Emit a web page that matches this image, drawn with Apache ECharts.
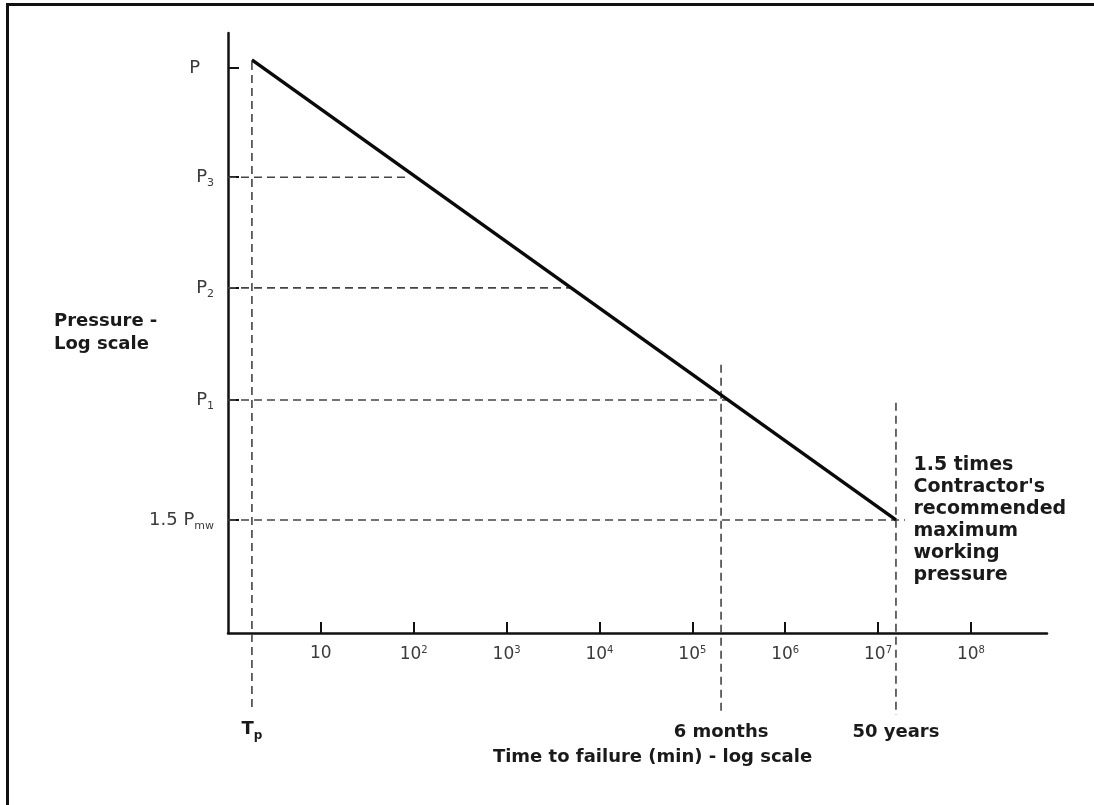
<!DOCTYPE html>
<html><head><meta charset="utf-8">
<script src="https://cdn.jsdelivr.net/npm/echarts@6/dist/echarts.min.js"></script>
<style>
html,body{margin:0;padding:0;background:#fff;overflow:hidden;width:1094px;height:805px;}
#frame{position:absolute;left:6px;top:3px;width:1200px;height:900px;border-top:3px solid #111;border-left:3px solid #111;}
#chart{position:absolute;left:0;top:0;width:1094px;height:805px;}
</style></head><body><div id="frame"></div><div id="chart"></div>
<script>
// ---- data ----
const timeTickValues = [10, 1e2, 1e3, 1e4, 1e5, 1e6, 1e7, 1e8];
const pressureLevels = [8.74, 5.75, 3.76, 2.445, 1.543];
const pressureNames = ['P', 'P', 'P', 'P', '1.5 P'];
const pressureSubs = ['', '3', '2', '1', 'mw'];
const curveTimes = [1.81, 1.56e7];
const curvePressures = [9.02, 1.543];
const levelGuideEnds = [null, 80.5, 4820, 2.88e5, 1.95e7];
const markerTimes = [1.81, 2.04e5, 1.56e7];
const markerNames = ['T', '6 months', '50 years'];
const markerSubs = ['p', '', ''];
const markerTops = [8.95, 2.80, 2.42];
const markerBottoms = [0.753, 0.73, 0.73];
const annotationLines = ['1.5 times', "Contractor's", 'recommended', 'maximum', 'working', 'pressure'];
const timeMin = 1, timeMax = 6.6e8, pressureMin = 1, pressureMax = 10;

const FONT = 'DejaVu Sans';
const guideStyle = { color: '#444', width: 1.6, type: [8, 5] };

function nearestIndex(arr, v) {
  let best = 0, bd = Infinity;
  arr.forEach((a, i) => { const d = Math.abs(Math.log(a) - Math.log(v)); if (d < bd) { bd = d; best = i; } });
  return best;
}

const series = [];
// main curve
series.push({
  type: 'line', silent: true, animation: false, z: 5,
  symbol: 'circle', symbolSize: 1, itemStyle: { color: 'rgba(0,0,0,0)' },
  lineStyle: { color: '#0a0a0a', width: 3.4 },
  data: curveTimes.map((t, i) => {
    const item = { value: [t, curvePressures[i]] };
    if (i === curveTimes.length - 1) {
      item.label = {
        show: true, position: 'right', distance: 17, align: 'left',
        formatter: annotationLines.join('\n'),
        fontFamily: FONT, fontSize: 19, fontWeight: 'bold', lineHeight: 22, color: '#1a1a1a'
      };
    }
    return item;
  })
});
// horizontal guides
pressureLevels.forEach((p, i) => {
  if (levelGuideEnds[i] == null) return;
  series.push({
    type: 'line', silent: true, animation: false, clip: false, z: 2,
    symbol: 'none', lineStyle: guideStyle,
    data: [[timeMin, p], [levelGuideEnds[i], p]]
  });
});
// vertical guides with labels below the axis
markerTimes.forEach((t, i) => {
  series.push({
    type: 'line', silent: true, animation: false, clip: false, z: 2,
    symbol: 'circle', symbolSize: 1, itemStyle: { color: 'rgba(0,0,0,0)' },
    lineStyle: guideStyle,
    data: [
      [t, markerTops[i]],
      {
        value: [t, markerBottoms[i]],
        label: {
          show: true, position: 'bottom', distance: i === 0 ? 10 : 8,
          formatter: markerSubs[i] ? '{m|' + markerNames[i] + '}{s|' + markerSubs[i] + '}' : '{m|' + markerNames[i] + '}',
          rich: {
            m: { fontFamily: FONT, fontSize: 18, fontWeight: 'bold', color: '#1a1a1a' },
            s: { fontFamily: FONT, fontSize: 12, fontWeight: 'bold', color: '#1a1a1a', padding: [12, 0, 0, 0] }
          }
        }
      }
    ]
  });
});

const option = {
  backgroundColor: 'transparent',
  animation: false,
  textStyle: { fontFamily: FONT },
  grid: { left: 228, right: 47, top: 33, bottom: 172, containLabel: false },
  xAxis: {
    type: 'log', logBase: 10, min: timeMin, max: timeMax,
    axisLine: { show: true, onZero: false, lineStyle: { color: '#111', width: 2.5 } },
    axisTick: { show: true, inside: true, length: 11, customValues: timeTickValues, lineStyle: { color: '#111', width: 2 } },
    axisLabel: {
      customValues: timeTickValues, margin: 12, color: '#3a3a3a', fontSize: 17, fontFamily: FONT,
      formatter: v => {
        const e = Math.round(Math.log10(v));
        return e === 1 ? '10' : '10{sup|' + e + '}';
      },
      rich: { sup: { fontSize: 10, color: '#3a3a3a', fontFamily: FONT, padding: [0, 0, 10, 0] } }
    },
    splitLine: { show: false },
    minorTick: { show: false },
    name: 'Time to failure (min) - log scale', nameLocation: 'middle', nameGap: 115,
    nameMoveOverlap: false,
    nameTextStyle: { fontSize: 18, fontWeight: 'bold', color: '#1a1a1a', fontFamily: FONT, padding: [0, 0, 0, 30] }
  },
  yAxis: {
    type: 'log', logBase: 10, min: pressureMin, max: pressureMax,
    axisLine: { show: true, onZero: false, lineStyle: { color: '#111', width: 2.5 } },
    axisTick: { show: true, inside: true, length: 11, customValues: pressureLevels, lineStyle: { color: '#111', width: 2 } },
    axisLabel: {
      customValues: pressureLevels, margin: 14, color: '#3a3a3a', fontSize: 18, fontFamily: FONT,
      formatter: v => {
        const i = nearestIndex(pressureLevels, v);
        return pressureSubs[i] ? '{m|' + pressureNames[i] + '}{s|' + pressureSubs[i] + '}' : '{p|' + pressureNames[i] + '}';
      },
      rich: {
        m: { fontSize: 18, color: '#3a3a3a', fontFamily: FONT },
        p: { fontSize: 18, color: '#3a3a3a', fontFamily: FONT, padding: [0, 14, 0, 0] },
        s: { fontSize: 11, color: '#3a3a3a', fontFamily: FONT, padding: [12, 0, 0, 0] }
      }
    },
    splitLine: { show: false },
    minorTick: { show: false },
    name: 'Pressure -\nLog scale', nameLocation: 'middle', nameRotate: 0, nameGap: 174,
    nameMoveOverlap: false,
    nameTextStyle: { align: 'left', fontSize: 18, fontWeight: 'bold', lineHeight: 23, color: '#1a1a1a', fontFamily: FONT }
  },
  series: series
};

const chart = echarts.init(document.getElementById('chart'), null, { renderer: 'canvas' });
chart.setOption(option);
</script>
</body></html>
